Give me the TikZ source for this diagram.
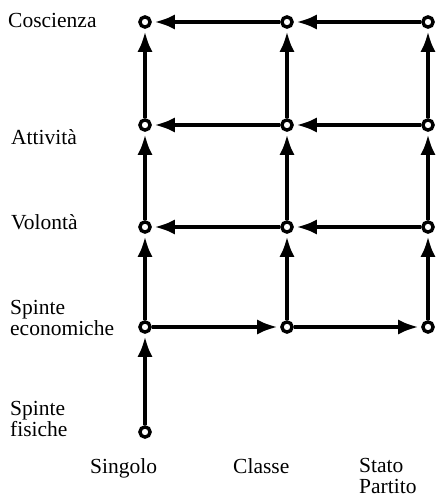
\documentclass[tikz,border=0pt]{standalone}
\usepackage{fontspec}
\setmainfont{Liberation Serif}
\usepackage{tikz}
\usetikzlibrary{positioning, arrows.meta}

\begin{document}
\begin{tikzpicture}[x=1pt, y=-1pt,
    dot/.style={circle, draw=black, line width=3.4pt, fill=white, inner sep=0pt, minimum size=10.2pt},
    arr/.style={-{Latex[length=20pt, width=15pt]}, line width=3.2pt, shorten >=3pt},
    lbl/.style={anchor=base west, align=left, inner sep=0pt, font=\fontsize{21.5}{21}\selectfont}
]
\useasboundingbox (0,0) rectangle (437,497);

% Singolo column
\node[dot] (sFis) at (145,432) {};
\node[dot] (sEco) at (145,327) {};
\node[dot] (sVol) at (145,227) {};
\node[dot] (sAtt) at (145,125) {};
\node[dot] (sCos) at (145,22) {};

% Classe column
\node[dot] (cEco) at (287,327) {};
\node[dot] (cVol) at (287,227) {};
\node[dot] (cAtt) at (287,125) {};
\node[dot] (cCos) at (287,22) {};

% Stato / Partito column
\node[dot] (pEco) at (428,327) {};
\node[dot] (pVol) at (428,227) {};
\node[dot] (pAtt) at (428,125) {};
\node[dot] (pCos) at (428,22) {};

% upward arrows
\draw[arr] (sFis) -- (sEco);
\draw[arr] (sEco) -- (sVol);
\draw[arr] (sVol) -- (sAtt);
\draw[arr] (sAtt) -- (sCos);
\draw[arr] (cEco) -- (cVol);
\draw[arr] (cVol) -- (cAtt);
\draw[arr] (cAtt) -- (cCos);
\draw[arr] (pEco) -- (pVol);
\draw[arr] (pVol) -- (pAtt);
\draw[arr] (pAtt) -- (pCos);

% horizontal arrows
\draw[arr] (sEco) -- (cEco);
\draw[arr] (cEco) -- (pEco);
\draw[arr] (pVol) -- (cVol);
\draw[arr] (cVol) -- (sVol);
\draw[arr] (pAtt) -- (cAtt);
\draw[arr] (cAtt) -- (sAtt);
\draw[arr] (pCos) -- (cCos);
\draw[arr] (cCos) -- (sCos);

% row labels
\node[lbl] (lCos) at (8,28) {Coscienza};
\node[lbl] (lAtt) at (11,145) {Attività};
\node[lbl] (lVol) at (11,229) {Volontà};
\node[lbl] (lEco) at (10,335) {Spinte\\economiche};
\node[lbl] (lFis) at (10,436) {Spinte\\fisiche};

% column labels
\node[lbl] (lSing) at (90,473) {Singolo};
\node[lbl] (lCla) at (233,473) {Classe};
\node[lbl] (lPar) at (359,493) {Stato\\Partito};

\end{tikzpicture}
\end{document}
